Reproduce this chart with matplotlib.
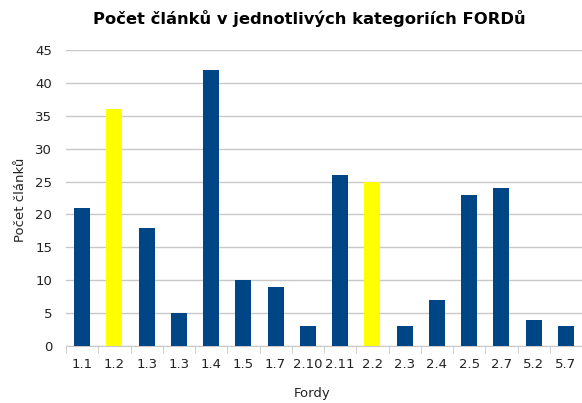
import numpy as np
import matplotlib.pyplot as plt

categories = ['1.1', '1.2', '1.3', '1.3', '1.4', '1.5', '1.7', '2.10', '2.11',
              '2.2', '2.3', '2.4', '2.5', '2.7', '5.2', '5.7']
counts = [21, 36, 18, 5, 42, 10, 9, 3, 26, 25, 3, 7, 23, 24, 4, 3]
highlight = ['1.2', '2.2']

blue = '#004586'
yellow = '#ffff00'
colors = [yellow if c in highlight else blue for c in categories]

plt.rcParams['font.family'] = ['DejaVu Sans']

fig = plt.figure(figsize=(5.82, 4.03), dpi=100)
ax = fig.add_axes([66 / 582, 1 - 346 / 403, 516 / 582, 296 / 403])

x = np.arange(len(categories))
ax.bar(x, counts, width=0.5, color=colors, zorder=3)

ax.set_xlim(-0.5, len(categories) - 0.5)
ax.set_ylim(0, 45)
ax.set_yticks(range(0, 46, 5))
ax.yaxis.grid(True, color='#c8c8c8', lw=1, zorder=0)

# category labels centered, tick marks on the boundaries
ax.set_xticks(x)
ax.set_xticklabels(categories, fontsize=9.5, color='#222222')
ax.set_xticks(np.arange(-0.5, len(categories), 1), minor=True)
ax.tick_params(axis='x', which='major', length=0, pad=9)
ax.tick_params(axis='x', which='minor', length=5, color='#c8c8c8')
ax.tick_params(axis='y', length=0, labelsize=9.5, labelcolor='#222222', pad=10)

for s in ['top', 'right', 'left']:
    ax.spines[s].set_visible(False)
ax.spines['bottom'].set_color('#c8c8c8')

ax.set_title('Počet článků v jednotlivých kategoriích FORDů',
             fontsize=11.8, fontweight='bold', pad=19, x=(309 - 66) / 516)
ax.set_ylabel('Počet článků', fontsize=9.5, color='#222222')
ax.set_xlabel('Fordy', fontsize=9.5, color='#222222')
ax.yaxis.set_label_coords(27 / 582, 1 - 200 / 403, transform=fig.transFigure)
ax.xaxis.set_label_coords(312 / 582, 1 - 387 / 403, transform=fig.transFigure)

fig.savefig('out.png', dpi=100)
